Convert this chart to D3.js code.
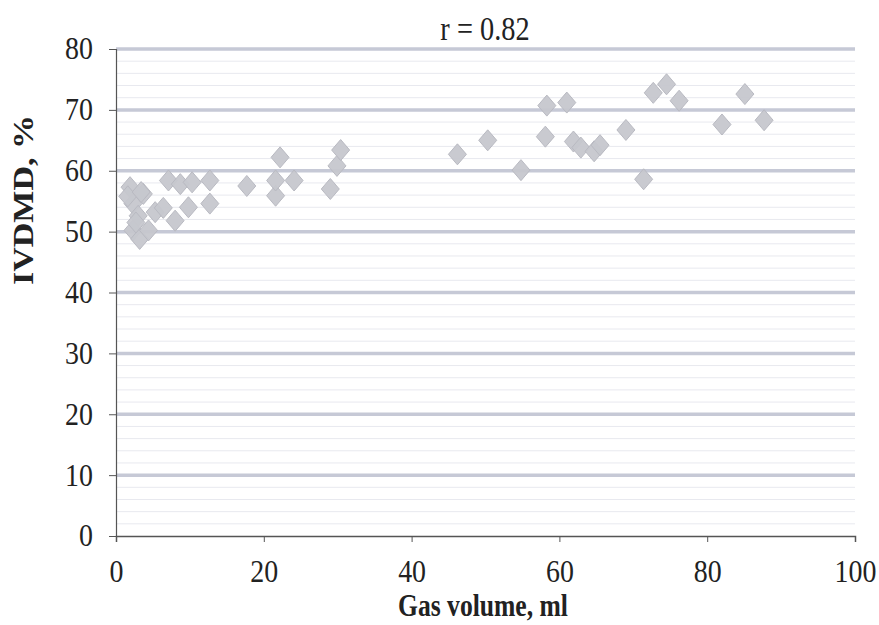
<!DOCTYPE html>
<html>
<head>
<meta charset="utf-8">
<script src="https://cdn.jsdelivr.net/npm/d3@7"></script>
<style>
  html, body { margin: 0; padding: 0; background: #fff; }
  svg { display: block; }
</style>
</head>
<body>
<svg id="chart" width="879" height="625"></svg>
<script>
// ---- data ----
const gasVolume = [
  1.9, 3.7, 2.3, 3.0, 2.3, 3.2, 4.4, 1.6, 2.7, 3.4,
  5.3, 6.4, 8.0, 9.8, 12.7,
  7.1, 8.7, 10.3, 12.7,
  17.7, 21.6, 21.6, 22.2, 24.1,
  29.0, 29.9, 30.4,
  46.2, 50.3, 54.8, 58.1, 58.3, 61.0, 61.9, 62.9, 64.7, 65.5,
  69.0, 71.4, 72.7, 74.5, 76.2, 82.0, 85.1, 87.7
];
const ivdmd = [
  57.3, 56.2, 54.6, 52.6, 50.2, 48.8, 50.2, 55.8, 51.5, 56.5,
  53.2, 53.9, 51.8, 54.0, 54.6,
  58.4, 57.8, 58.1, 58.4,
  57.5, 55.9, 58.4, 62.2, 58.4,
  57.0, 60.8, 63.4,
  62.7, 65.0, 60.1, 65.6, 70.7, 71.2, 64.8, 63.8, 63.2, 64.2,
  66.7, 58.6, 72.8, 74.2, 71.5, 67.6, 72.6, 68.3
];
const xTicks = [0, 20, 40, 60, 80, 100];
const yTicks = [0, 10, 20, 30, 40, 50, 60, 70, 80];
const yMinor = d3.range(0, 80, 2).filter(v => v % 10 !== 0);
const titleText = "r = 0.82";
const xTitle = "Gas volume, ml";
const yTitle = "IVDMD, %";

// ---- layout ----
const svg = d3.select("#chart");
const mLeft = 116, mRight = 855, mTop = 49, mBottom = 536;
const x = d3.scaleLinear().domain([0, 100]).range([mLeft, mRight]);
const y = d3.scaleLinear().domain([0, 80]).range([mBottom, mTop]);
const serif = "'Liberation Serif', 'Times New Roman', serif";
const squeeze = 0.86;

// minor gridlines
svg.append("g").selectAll("line").data(yMinor).join("line")
  .attr("x1", mLeft).attr("x2", mRight)
  .attr("y1", d => y(d)).attr("y2", d => y(d))
  .attr("stroke", "#e8e9ef").attr("stroke-width", 1);

// major gridlines
svg.append("g").selectAll("line").data(yTicks.filter(d => d > 0)).join("line")
  .attr("x1", mLeft).attr("x2", mRight)
  .attr("y1", d => y(d)).attr("y2", d => y(d))
  .attr("stroke", "#c6c9d6").attr("stroke-width", 3.5);

// axes
const yAxis = d3.axisLeft(y).tickValues(yTicks).tickSize(7).tickPadding(16);
const gy = svg.append("g").attr("transform", `translate(${mLeft},0)`).call(yAxis);
gy.select(".domain").attr("stroke", "#555").attr("stroke-width", 1.2);
gy.selectAll(".tick line").attr("stroke", "#555");
gy.selectAll("text")
  .attr("font-family", serif).attr("font-size", 31).attr("fill", "#222")
  .attr("x", 0).attr("transform", `translate(-23,0) scale(0.9,1)`);

const xAxis = d3.axisBottom(x).tickValues(xTicks).tickSize(6).tickPadding(18);
const gx = svg.append("g").attr("transform", `translate(0,${mBottom})`).call(xAxis);
gx.select(".domain").attr("stroke", "#555").attr("stroke-width", 1.5);
gx.selectAll(".tick line").attr("stroke", "#555");
gx.selectAll("text")
  .attr("font-family", serif).attr("font-size", 31).attr("fill", "#222")
  .attr("y", 0).attr("transform", `translate(0,24) scale(0.9,1)`);

// points
const pts = gasVolume.map((g, i) => ({ g, v: ivdmd[i] }));
const hw = 9, hh = 10.5;
svg.append("g").selectAll("path").data(pts).join("path")
  .attr("transform", d => `translate(${x(d.g)},${y(d.v)})`)
  .attr("d", `M0,${-hh}L${hw},0L0,${hh}L${-hw},0Z`)
  .attr("fill", "#c6c7ce").attr("stroke", "#b9bac2").attr("stroke-width", 1)
  .attr("fill-opacity", 0.95);

// title
svg.append("text")
  .attr("transform", `translate(485,40) scale(${squeeze},1)`)
  .attr("text-anchor", "middle")
  .attr("font-family", serif).attr("font-size", 33).attr("fill", "#222").text(titleText);

// axis titles
svg.append("text")
  .attr("transform", `translate(483,616) scale(0.8,1)`)
  .attr("text-anchor", "middle")
  .attr("font-family", serif).attr("font-size", 32).attr("font-weight", "bold")
  .attr("fill", "#222").text(xTitle);

svg.append("text")
  .attr("transform", `translate(33,200) rotate(-90) scale(1,0.85)`)
  .attr("text-anchor", "middle")
  .attr("font-family", serif).attr("font-size", 34).attr("font-weight", "bold")
  .attr("fill", "#222").text(yTitle);
</script>
</body>
</html>
